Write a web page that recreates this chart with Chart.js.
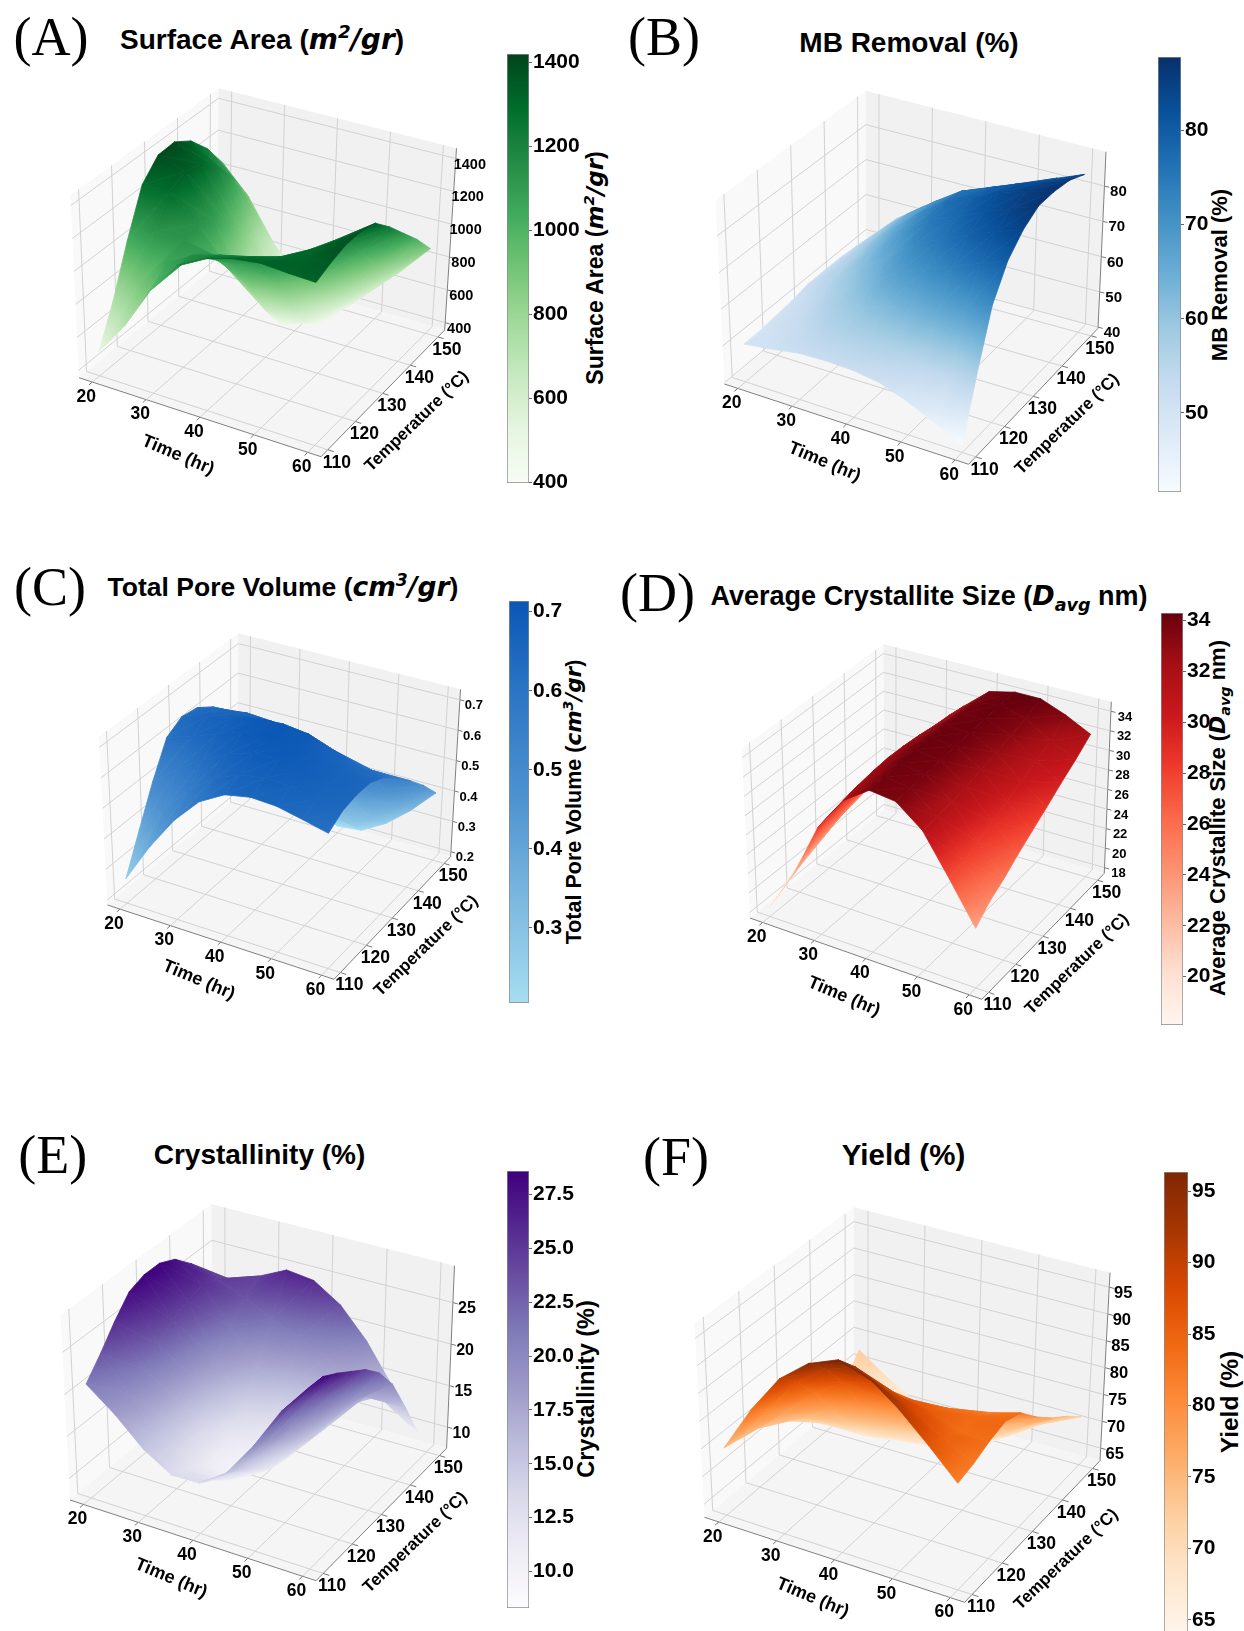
<!DOCTYPE html>
<html>
<head>
<meta charset="utf-8">
<title>Response surfaces</title>
<script src="https://cdn.jsdelivr.net/npm/chart.js@4/dist/chart.umd.min.js"></script>
<style>
html, body { margin: 0; padding: 0; background: #fff; }
#page { position: relative; width: 1244px; height: 1631px; overflow: hidden; }
canvas { position: absolute; }
.txt { position: absolute; transform: translate(-50%, -50%); white-space: nowrap; color: #000;
	font-family: "Liberation Sans", sans-serif; font-weight: bold; }
.letter { font-family: "Liberation Serif", serif; font-weight: normal; font-size: 54px; }
.side { transform: translate(-50%, -50%) rotate(-90deg); }
.txt i { font-family: "DejaVu Sans", sans-serif; font-style: italic; }
.txt sup { font-size: 65%; line-height: 0; }
.txt sub { font-size: 65%; line-height: 0; }
</style>
</head>
<body>
<div id="page"></div>
<script>
"use strict";

// grid of the surfaces
const times = [20, 25, 30, 35, 40, 45, 50, 55, 60];
const temps = [110, 115, 120, 125, 130, 135, 140, 145, 150];
const timeTicks = [20, 30, 40, 50, 60];
const tempTicks = [110, 120, 130, 140, 150];

// rows go by temperature, columns by time
const surfaceArea = [
	[500, 710, 976, 1173, 1266, 1315, 1337, 1326, 1320],
	[730, 900, 1060, 1160, 1210, 1250, 1290, 1330, 1357],
	[1025, 1130, 1130, 1100, 1080, 1120, 1220, 1320, 1384],
	[1295, 1300, 1150, 950, 860, 920, 1090, 1280, 1382],
	[1403, 1350, 1100, 790, 640, 700, 930, 1190, 1353],
	[1410, 1320, 1000, 620, 480, 530, 760, 1050, 1250],
	[1342, 1230, 860, 520, 420, 450, 640, 890, 1130],
	[1220, 1080, 730, 480, 410, 430, 570, 770, 1010],
	[1053, 885, 640, 480, 420, 465, 555, 700, 872]
];
const mbRemoval = [
	[50, 51, 52.3, 52.6, 52.4, 51.3, 48.6, 45.2, 41.6],
	[50, 52, 54.5, 56, 56.5, 56, 54.5, 54, 57],
	[50.5, 53, 56.5, 59.5, 62, 64, 66, 68, 71.6],
	[51, 54.5, 58.5, 63, 68, 71, 74, 77, 79.9],
	[52, 56, 61, 66, 72, 75.5, 79, 82, 84.6],
	[52, 57, 63, 69.5, 75, 78, 81.5, 84.5, 87.4],
	[52, 58, 64.5, 71, 76.5, 79.5, 83, 85.5, 87.4],
	[51.5, 58.5, 65, 70.5, 75.5, 78.5, 81.5, 84, 86.6],
	[50.5, 58, 63.4, 68, 72, 75, 78, 81.3, 84.3]
];
const poreVolume = [
	[.264, .394, .506, .592, .640, .657, .653, .635, .616],
	[.382, .480, .565, .630, .665, .680, .675, .660, .645],
	[.503, .570, .625, .670, .695, .700, .690, .670, .655],
	[.611, .640, .670, .700, .712, .705, .685, .665, .653],
	[.641, .665, .685, .705, .710, .700, .670, .640, .627],
	[.632, .650, .660, .655, .640, .620, .600, .585, .583],
	[.596, .600, .570, .490, .450, .430, .440, .480, .531],
	[.542, .510, .440, .350, .290, .280, .320, .385, .473],
	[.476, .400, .330, .255, .206, .215, .260, .325, .405]
];
const crystalliteSize = [
	[18.3, 22.7, 28.4, 32, 33.9, 33.6, 31.5, 27.5, 23.4],
	[19.3, 23.5, 28.8, 32.3, 34, 33.7, 31.6, 28, 24.7],
	[20.4, 24, 29, 32.5, 34.1, 33.8, 31.8, 28.5, 25.6],
	[21.5, 24.6, 29, 32.6, 34.2, 33.9, 32, 29.2, 26.7],
	[22.2, 25, 29, 32.5, 34.2, 34, 32.4, 29.9, 27.7],
	[22.5, 25.3, 28.9, 32.3, 34.1, 34.1, 32.8, 30.6, 28.7],
	[22.8, 25.7, 28.9, 32, 34, 34.2, 33.2, 31.3, 29.8],
	[23.2, 26.1, 29, 31.8, 33.9, 34.3, 33.6, 32, 30.8],
	[23.5, 26.6, 29, 31.5, 33.7, 34.3, 34.3, 33.3, 32]
];
const crystallinity = [
	[21, 18.4, 15.3, 13.3, 13.4, 15.6, 19.8, 24.8, 28.6],
	[23.2, 19.5, 15.3, 12.5, 12.3, 14.5, 18.8, 24.2, 28.4],
	[25.7, 21, 15.5, 11.6, 10.8, 13, 17.5, 23.2, 27.3],
	[27.9, 22.5, 16, 11, 9.6, 11.5, 15.8, 21.5, 26],
	[28.6, 24, 17.3, 11.6, 9.7, 11, 14.5, 19.8, 24.7],
	[28.6, 25, 19, 14, 11.6, 12, 14.2, 18.4, 22.8],
	[27.7, 25.5, 21.3, 17.4, 15.3, 14.8, 15.3, 17.5, 19.9],
	[25.8, 24.8, 23.4, 21.7, 20.4, 18.9, 17, 16, 15.6],
	[23, 23.2, 24.6, 26.2, 25.8, 23.7, 20.2, 15.6, 11]
];
const yieldPct = [
	[74.8, 83.4, 90.6, 95, 97.3, 95.8, 91.8, 86.9, 81.7],
	[74.1, 81, 87.5, 91.5, 93.5, 91, 88.5, 85.5, 82.5],
	[73.4, 78, 83, 86.5, 88, 87, 86, 84, 83.8],
	[72.4, 74.5, 77.5, 80, 82, 83.5, 84, 84, 84.7],
	[70.5, 71, 72, 73.5, 75.5, 77.5, 79.5, 82, 83.5],
	[67.4, 67.5, 67.5, 68.5, 70, 72, 75, 78, 80],
	[66, 65.5, 65, 65, 65.5, 67.5, 70.5, 74, 77],
	[68, 66.5, 65, 64.3, 64.2, 65, 68, 71.5, 74.5],
	[72.7, 69, 66, 64.5, 64, 64, 67.2, 69.6, 71.6]
];

const surfaceAreaTicks = [400, 600, 800, 1000, 1200, 1400];
const mbRemovalTicks = [40, 50, 60, 70, 80];
const mbRemovalBarTicks = [50, 60, 70, 80];
const poreVolumeTicks = [0.2, 0.3, 0.4, 0.5, 0.6, 0.7];
const poreVolumeBarTicks = [0.3, 0.4, 0.5, 0.6, 0.7];
const crystalliteTicks = [18, 20, 22, 24, 26, 28, 30, 32, 34];
const crystalliteBarTicks = [20, 22, 24, 26, 28, 30, 32, 34];
const crystallinityTicks = [10, 15, 20, 25];
const crystallinityBarTicks = [10, 12.5, 15, 17.5, 20, 22.5, 25, 27.5];
const yieldTicks = [65, 70, 75, 80, 85, 90, 95];

// colour ramps
const greens = ['#f7fcf5', '#e5f5e0', '#c7e9c0', '#a1d99b', '#74c476', '#41ab5d', '#238b45', '#006d2c', '#00441b'];
const blues = ['#f7fbff', '#deebf7', '#c6dbef', '#9ecae1', '#6baed6', '#4292c6', '#2171b5', '#08519c', '#08306b'];
const skyBlues = ['#a6ddf1', '#7db9e0', '#4f93d0', '#2f78c6', '#0a57b5'];
const reds = ['#fff5f0', '#fee0d2', '#fcbba1', '#fc9272', '#fb6a4a', '#ef3b2c', '#cb181d', '#a50f15', '#67000d'];
const purples = ['#fcfbfd', '#efedf5', '#dadaeb', '#bcbddc', '#9e9ac8', '#807dba', '#6a51a3', '#54278f', '#3f007d'];
const oranges = ['#fff5eb', '#fee6ce', '#fdd0a2', '#fdae6b', '#fd8d3c', '#f16913', '#d94801', '#a63603', '#7f2704'];

const plain = v => String(v);
const oneDec = v => v.toFixed(1);

const panels = [
	{ z: surfaceArea, zTicks: surfaceAreaTicks, barTicks: surfaceAreaTicks, vmin: 398, vmax: 1420, ramp: greens, ox: 0, oy: 60,
		box: [[79, 377.7], [321, 456.7], [444.7, 330], [70.4, 195], [456.5, 148.3], [218.6, 88.3]],
		bar: [507, 528.5, 54, 483], zFmt: plain, barFmt: plain, zSize: 14.5 },
	{ z: mbRemoval, zTicks: mbRemovalTicks, barTicks: mbRemovalBarTicks, vmin: 41.6, vmax: 87.8, ramp: blues, ox: 620, oy: 60,
		box: [[724.4, 384], [968.6, 464.3], [1098, 328.3], [715.6, 200], [1106, 151.7], [865.8, 90.7]],
		bar: [1158, 1180, 57, 492], zFmt: plain, barFmt: plain, zSize: 15 },
	{ z: poreVolume, zTicks: poreVolumeTicks, barTicks: poreVolumeBarTicks, vmin: 0.205, vmax: 0.7135, ramp: skyBlues, ox: 0, oy: 600,
		box: [[107.5, 905], [334, 979.3], [450.6, 856.7], [98.8, 736.7], [460.5, 689.3], [238.3, 633.3]],
		bar: [509, 528, 601, 1003], zFmt: oneDec, barFmt: oneDec, zSize: 13 },
	{ z: crystalliteSize, zTicks: crystalliteTicks, barTicks: crystalliteBarTicks, vmin: 18.1, vmax: 34.3, ramp: reds, ox: 620, oy: 600,
		box: [[749.9, 918], [981.9, 999.3], [1104.3, 873.3], [741.7, 748.3], [1111.3, 701.7], [883.4, 644.3]],
		bar: [1161, 1182, 613, 1025], zFmt: plain, barFmt: plain, zSize: 13 },
	{ z: crystallinity, zTicks: crystallinityTicks, barTicks: crystallinityBarTicks, vmin: 8.3, vmax: 28.6, ramp: purples, ox: 0, oy: 1160, vEnd: 0.87,
		box: [[70, 1500], [316, 1580.7], [446.6, 1448.3], [60.5, 1315], [454.5, 1265.7], [211.5, 1204.3]],
		bar: [507, 528, 1171, 1608], zFmt: plain, barFmt: oneDec, zSize: 16 },
	{ z: yieldPct, zTicks: yieldTicks, barTicks: yieldTicks, vmin: 64, vmax: 96.35, ramp: oranges, ox: 620, oy: 1160,
		box: [[704.5, 1517.3], [964.6, 1602.3], [1100, 1460.7], [694.5, 1323.3], [1110, 1272.7], [853.9, 1207.3]],
		bar: [1164, 1187, 1172, 1634], zFmt: plain, barFmt: plain, zSize: 16.5 }
];

const texts = [
	['letter', 51, 37, '(A)'], ['letter', 664, 37, '(B)'], ['letter', 50, 587, '(C)'],
	['letter', 657.5, 593, '(D)'], ['letter', 52.8, 1155, '(E)'], ['letter', 676, 1157, '(F)'],
	['title', 262, 39, 'Surface Area (<i>m<sup>2</sup>/gr</i>)', 28],
	['title', 909, 43, 'MB Removal (%)', 28],
	['title', 283, 587, 'Total Pore Volume (<i>cm<sup>3</sup>/gr</i>)', 26.5],
	['title', 929, 596, 'Average Crystallite Size (<i>D<sub>avg</sub></i> nm)', 27],
	['title', 259.5, 1155, 'Crystallinity (%)', 28],
	['title', 903.5, 1155, 'Yield (%)', 29.5],
	['side', 595, 268, 'Surface Area (<i>m<sup>2</sup>/gr</i>)', 23],
	['side', 1220, 275, 'MB Removal (%)', 22],
	['side', 574, 802, 'Total Pore Volume (<i>cm<sup>3</sup>/gr</i>)', 21.5],
	['side', 1218, 818, 'Average Crystallite Size (<i>D<sub>avg</sub></i> nm)', 22],
	['side', 586, 1389, 'Crystallinity (%)', 23.5],
	['side', 1230, 1402, 'Yield (%)', 24.5]
];

const page = document.getElementById('page');
const CW = 620, CH = 480;
const MARGIN = 0.055;
const ZPAD = 0.0417;

function hex(c) {
	return [1, 3, 5].map(i => parseInt(c.substr(i, 2), 16));
}
function rampColor(ramp, t) {
	t = Math.min(1, Math.max(0, t)) * (ramp.length - 1);
	const i = Math.min(ramp.length - 2, Math.floor(t));
	const a = hex(ramp[i]), b = hex(ramp[i + 1]), f = t - i;
	return 'rgb(' + a.map((x, k) => Math.round(x + (b[k] - x) * f)).join(',') + ')';
}

// box corners: the two hidden ones follow from the six that can be seen
function fullBox(b) {
	const c000 = b[0], c100 = b[1], c110 = b[2], c001 = b[3], c111 = b[4], c011 = b[5];
	const vx = (c000[0] - c001[0] + c110[0] - c111[0]) / 2;
	const vy = (c000[1] - c001[1] + c110[1] - c111[1]) / 2;
	return {
		c000, c100, c110, c001, c111, c011,
		c010: [c011[0] + vx * 0.97, c011[1] + vy * 0.97],
		c101: [c100[0] - vx * 1.03, c100[1] - vy * 1.03]
	};
}
function project(c, u, v, w) {
	const p = k => (1 - w) * ((1 - u) * (1 - v) * c.c000[k] + u * (1 - v) * c.c100[k] + u * v * c.c110[k] + (1 - u) * v * c.c010[k])
		+ w * ((1 - u) * (1 - v) * c.c001[k] + u * (1 - v) * c.c101[k] + u * v * c.c111[k] + (1 - u) * v * c.c011[k]);
	return { x: p(0), y: p(1) };
}
function seg(a, b, color, width) {
	return { data: [a, b], borderColor: color, borderWidth: width, fill: false, pointRadius: 0 };
}
function shape(pts, color) {
	return { data: pts.concat([pts[0]]), backgroundColor: color, borderColor: color, borderWidth: 0, fill: 'shape', pointRadius: 0 };
}

// one triangle of the surface, shaded along its own value slope
function triangle(ctx, p, tri) {
	const P = tri.map(k => ({ x: k.x - p.ox, y: k.y - p.oy, z: k.z }));
	const span = p.vmax - p.vmin;
	const col = z => rampColor(p.ramp, (z - p.vmin) / span);
	const det = (P[1].x - P[0].x) * (P[2].y - P[0].y) - (P[2].x - P[0].x) * (P[1].y - P[0].y);
	const lo = P.reduce((m, k) => k.z < m.z ? k : m);
	const hi = P.reduce((m, k) => k.z > m.z ? k : m);
	let paint = col((P[0].z + P[1].z + P[2].z) / 3);
	if (Math.abs(det) > 1 && hi.z > lo.z) {
		const a = ((P[1].z - P[0].z) * (P[2].y - P[0].y) - (P[2].z - P[0].z) * (P[1].y - P[0].y)) / det;
		const b = ((P[1].x - P[0].x) * (P[2].z - P[0].z) - (P[2].x - P[0].x) * (P[1].z - P[0].z)) / det;
		const g2 = a * a + b * b;
		const d = (hi.z - lo.z) / g2;
		paint = ctx.createLinearGradient(lo.x, lo.y, lo.x + a * d, lo.y + b * d);
		for (let s = 0; s <= 4; s++) paint.addColorStop(s / 4, col(lo.z + (hi.z - lo.z) * s / 4));
	}
	return {
		data: tri.map(k => ({ x: k.x, y: k.y })).concat([{ x: tri[0].x, y: tri[0].y }]),
		backgroundColor: paint, borderColor: paint, borderWidth: 0.8, fill: 'shape', pointRadius: 0
	};
}

function draw3d(p) {
	const canvas = document.createElement('canvas');
	canvas.width = CW; canvas.height = CH;
	canvas.style.left = p.ox + 'px'; canvas.style.top = p.oy + 'px';
	page.appendChild(canvas);
	const ctx = canvas.getContext('2d');

	const c = fullBox(p.box);
	const r = p.vmax - p.vmin;
	const zlo = p.vmin - ZPAD * r, zhi = p.vmax + ZPAD * r;
	const uOf = t => MARGIN + (1 - 2 * MARGIN) * (t - 20) / 40;
	const vOf = T => MARGIN + (1 - 2 * MARGIN) * (T - 110) / 40;
	const wOf = z => (z - zlo) / (zhi - zlo);
	const vEnd = p.vEnd || 1 - MARGIN;
	const vSurf = T => MARGIN + (vEnd - MARGIN) * (T - 110) / 40;

	// surface triangles, nearest first because the library paints the list from the end
	const tris = [];
	const node = (i, j) => {
		const u = uOf(times[i]), v = vSurf(temps[j]), z = p.z[j][i], w = wOf(z);
		const q = project(c, u, v, w);
		return { x: q.x, y: q.y, z, near: 0.433 * u - 0.75 * v + 0.5 * w };
	};
	for (let j = 0; j < temps.length - 1; j++) {
		for (let i = 0; i < times.length - 1; i++) {
			const a = node(i, j), b = node(i + 1, j), e = node(i + 1, j + 1), f = node(i, j + 1);
			tris.push([a, b, e], [a, e, f]);
		}
	}
	tris.sort((m, n) => (n[0].near + n[1].near + n[2].near) - (m[0].near + m[1].near + m[2].near));
	const datasets = tris.map(t => triangle(ctx, p, t));

	// box lines and panes go underneath
	const G = '#d2d2d2';
	const P = (u, v, w) => project(c, u, v, w);
	const labels = [];
	timeTicks.forEach(t => {
		const u = uOf(t);
		datasets.push(seg(P(u, 0, 0), P(u, -0.025, 0), '#777', 1));
		datasets.push(seg(P(u, 0, 0), P(u, 1, 0), G, 1));
		datasets.push(seg(P(u, 1, 0), P(u, 1, 1), G, 1));
		labels.push({ at: P(u, 0, 0), dx: -6, dy: 15, text: String(t), size: 17.5 });
	});
	tempTicks.forEach(T => {
		const v = vOf(T);
		datasets.push(seg(P(1, v, 0), P(1.025, v, 0), '#777', 1));
		datasets.push(seg(P(0, v, 0), P(1, v, 0), G, 1));
		datasets.push(seg(P(0, v, 0), P(0, v, 1), G, 1));
		labels.push({ at: P(1, v, 0), dx: 9, dy: 13, text: String(T), size: 17.5 });
	});
	p.zTicks.forEach(z => {
		const w = wOf(z);
		datasets.push(seg(P(1, 1, w), P(1.02, 1.0, w), '#777', 1));
		datasets.push(seg(P(0, 0, w), P(0, 1, w), G, 1));
		datasets.push(seg(P(0, 1, w), P(1, 1, w), G, 1));
		labels.push({ at: P(1, 1, w), dx: 14, dy: 6, text: p.zFmt(z), size: p.zSize });
	});
	const pt = q => ({ x: q[0], y: q[1] });
	datasets.push(seg(pt(c.c000), pt(c.c100), '#808080', 1));
	datasets.push(seg(pt(c.c100), pt(c.c110), '#808080', 1));
	datasets.push(seg(pt(c.c110), pt(c.c111), '#808080', 1));
	datasets.push(shape([c.c000, c.c100, c.c110, c.c010].map(pt), '#f5f5f5'));
	datasets.push(shape([c.c010, c.c110, c.c111, c.c011].map(pt), '#f1f1f1'));
	datasets.push(shape([c.c000, c.c010, c.c011, c.c001].map(pt), '#f9f9f9'));

	const f = P(0.5, 0, 0), g = P(1, 0.5, 0);
	const axisText = {
		id: 'axisText',
		afterDatasetsDraw(chart) {
			const sx = chart.scales.x, sy = chart.scales.y, k = chart.ctx;
			const px = q => [sx.getPixelForValue(q.x), sy.getPixelForValue(q.y)];
			k.save();
			k.fillStyle = '#000';
			k.textAlign = 'center';
			k.textBaseline = 'middle';
			labels.forEach(l => {
				const a = px(l.at);
				k.font = 'bold ' + l.size + 'px "Liberation Sans"';
				k.fillText(l.text, a[0] + l.dx, a[1] + l.dy);
			});
			const a = px(f), b = px(g);
			k.font = 'bold 18px "Liberation Sans"';
			k.save(); k.translate(a[0] - 22, a[1] + 38); k.rotate(23 * Math.PI / 180); k.fillText('Time (hr)', 0, 0); k.restore();
			k.font = 'bold 17px "Liberation Sans"';
			k.save(); k.translate(b[0] + 34, b[1] + 28); k.rotate(-44 * Math.PI / 180); k.fillText('Temperature (°C)', 0, 0); k.restore();
			k.restore();
		}
	};

	new Chart(canvas, {
		type: 'line',
		data: { datasets },
		options: {
			responsive: false, animation: false, events: [],
			layout: { padding: 0 },
			plugins: { legend: { display: false }, tooltip: { enabled: false }, title: { display: false } },
			scales: {
				x: { type: 'linear', display: false, min: p.ox, max: p.ox + CW },
				y: { type: 'linear', display: false, min: p.oy, max: p.oy + CH, reverse: true }
			}
		},
		plugins: [axisText]
	});
}

function drawBar(p) {
	const PAD = 14, AXW = 70;
	const left = p.bar[0], right = p.bar[1], top = p.bar[2], bottom = p.bar[3];
	const canvas = document.createElement('canvas');
	canvas.width = right - left + AXW + 2;
	canvas.height = bottom - top + 2 * PAD;
	canvas.style.left = (left - 1) + 'px'; canvas.style.top = (top - PAD) + 'px';
	page.appendChild(canvas);
	new Chart(canvas, {
		type: 'bar',
		data: {
			labels: [''],
			datasets: [{
				data: [[p.vmin, p.vmax]],
				barPercentage: 1, categoryPercentage: 1,
				borderColor: '#8a8a8a', borderWidth: 1, borderSkipped: false,
				backgroundColor(context) {
					const a = context.chart.chartArea;
					if (!a) return p.ramp[0];
					const g = context.chart.ctx.createLinearGradient(0, a.bottom, 0, a.top);
					for (let s = 0; s <= 32; s++) g.addColorStop(s / 32, rampColor(p.ramp, s / 32));
					return g;
				}
			}]
		},
		options: {
			responsive: false, animation: false, events: [],
			layout: { padding: { top: PAD, bottom: PAD, left: 1 } },
			plugins: { legend: { display: false }, tooltip: { enabled: false } },
			scales: {
				x: { display: false },
				y: {
					position: 'right', min: p.vmin, max: p.vmax,
					afterFit(s) { s.width = AXW; },
					afterBuildTicks(s) { s.ticks = p.barTicks.map(v => ({ value: v })); },
					border: { display: false },
					grid: { drawOnChartArea: false, drawTicks: true, tickLength: 3, color: '#666' },
					ticks: {
						color: '#000', padding: 1, autoSkip: false, maxRotation: 0,
						font: { family: 'Liberation Sans', weight: 'bold', size: 21 },
						callback: v => p.barFmt(v)
					}
				}
			}
		}
	});
}

texts.forEach(t => {
	const el = document.createElement('div');
	el.className = 'txt ' + t[0];
	el.style.left = t[1] + 'px';
	el.style.top = t[2] + 'px';
	if (t[4]) el.style.fontSize = t[4] + 'px';
	el.innerHTML = t[3];
	page.appendChild(el);
});

panels.forEach(p => { draw3d(p); drawBar(p); });
</script>
</body>
</html>
